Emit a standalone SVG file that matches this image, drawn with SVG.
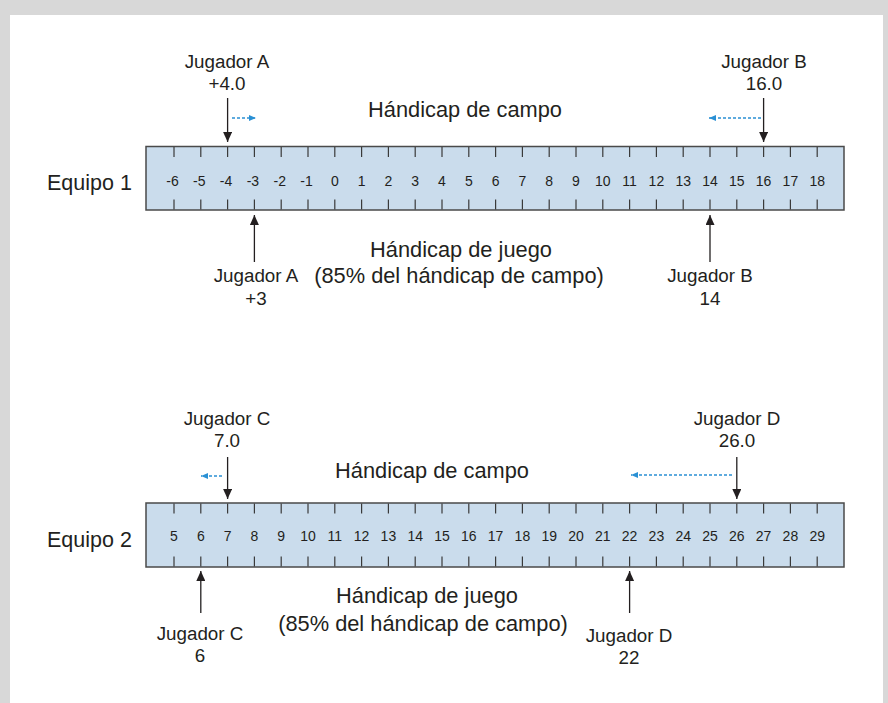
<svg xmlns="http://www.w3.org/2000/svg" width="888" height="703" viewBox="0 0 888 703">
<style>
text{font-family:"Liberation Sans",Arial,sans-serif;fill:#231f20}
.lbl{font-size:18.8px;text-anchor:middle}
.head{font-size:21.8px;text-anchor:middle}
.team{font-size:21.5px}
.num{font-size:14px;text-anchor:middle}
.ruler{fill:#cadcec;stroke:#4a4a4a;stroke-width:1.5}
.tick{stroke:#3a3a3a;stroke-width:1.2}
.arr{stroke:#231f20;stroke-width:1.3;fill:none;marker-end:url(#ah)}
.blue{stroke:#2a90d4;stroke-width:1.3;stroke-dasharray:3 2;fill:none;marker-end:url(#bh)}
</style>
<defs>
<marker id="ah" markerUnits="userSpaceOnUse" markerWidth="10" markerHeight="9" refX="10" refY="4.5" orient="auto">
<path d="M0,0 L10,4.5 L0,9 z" fill="#231f20"/>
</marker>
<marker id="bh" markerUnits="userSpaceOnUse" markerWidth="7" markerHeight="6" refX="7" refY="3" orient="auto">
<path d="M0,0 L7,3 L0,6 z" fill="#2a90d4"/>
</marker>
</defs>
<rect x="0" y="0" width="888" height="703" fill="#d8d8d8"/>
<rect x="10" y="15" width="873" height="688" fill="#ffffff"/>

<g id="equipo1">
<text class="team" x="47" y="190">Equipo 1</text>
<rect class="ruler" x="146" y="146.5" width="698" height="63.5"/>
<g class="tick">
<path d="M174,147v10M200.8,147v10M227.6,147v10M254.4,147v10M281.2,147v10M308,147v10M334.8,147v10M361.6,147v10M388.4,147v10M415.2,147v10M442,147v10M468.8,147v10M495.6,147v10M522.4,147v10M549.2,147v10M576,147v10M602.8,147v10M629.6,147v10M656.4,147v10M683.2,147v10M710,147v10M736.8,147v10M763.6,147v10M790.4,147v10M817.2,147v10"/>
<path d="M174,199.5v10M200.8,199.5v10M227.6,199.5v10M254.4,199.5v10M281.2,199.5v10M308,199.5v10M334.8,199.5v10M361.6,199.5v10M388.4,199.5v10M415.2,199.5v10M442,199.5v10M468.8,199.5v10M495.6,199.5v10M522.4,199.5v10M549.2,199.5v10M576,199.5v10M602.8,199.5v10M629.6,199.5v10M656.4,199.5v10M683.2,199.5v10M710,199.5v10M736.8,199.5v10M763.6,199.5v10M790.4,199.5v10M817.2,199.5v10"/>
</g>
<g class="num">
<text x="172.5" y="185.5">-6</text><text x="199.3" y="185.5">-5</text><text x="226.1" y="185.5">-4</text><text x="252.9" y="185.5">-3</text><text x="279.7" y="185.5">-2</text><text x="306.5" y="185.5">-1</text>
<text x="334.8" y="185.5">0</text><text x="361.6" y="185.5">1</text><text x="388.4" y="185.5">2</text><text x="415.2" y="185.5">3</text><text x="442" y="185.5">4</text><text x="468.8" y="185.5">5</text><text x="495.6" y="185.5">6</text><text x="522.4" y="185.5">7</text><text x="549.2" y="185.5">8</text><text x="576" y="185.5">9</text><text x="602.8" y="185.5">10</text><text x="629.6" y="185.5">11</text><text x="656.4" y="185.5">12</text><text x="683.2" y="185.5">13</text><text x="710" y="185.5">14</text><text x="736.8" y="185.5">15</text><text x="763.6" y="185.5">16</text><text x="790.4" y="185.5">17</text><text x="817.2" y="185.5">18</text>
</g>
<text class="head" x="465" y="117">Hándicap de campo</text>
<text class="head" x="461" y="257">Hándicap de juego</text>
<text class="head" x="459" y="282.5">(85% del hándicap de campo)</text>
</g>

<g id="jugadorA-campo"><text class="lbl" x="227" y="68">Jugador A</text><text class="lbl" x="227" y="89.5">+4.0</text></g>
<g id="jugadorB-campo"><text class="lbl" x="764" y="68">Jugador B</text><text class="lbl" x="764" y="89.5">16.0</text></g>
<g id="jugadorA-juego"><text class="lbl" x="256" y="282">Jugador A</text><text class="lbl" x="256" y="305">+3</text></g>
<g id="jugadorB-juego"><text class="lbl" x="710" y="282">Jugador B</text><text class="lbl" x="710" y="305">14</text></g>

<g id="equipo2">
<text class="team" x="47" y="547">Equipo 2</text>
<rect class="ruler" x="146" y="503" width="698" height="64"/>
<g class="tick">
<path d="M174,503.5v10M200.8,503.5v10M227.6,503.5v10M254.4,503.5v10M281.2,503.5v10M308,503.5v10M334.8,503.5v10M361.6,503.5v10M388.4,503.5v10M415.2,503.5v10M442,503.5v10M468.8,503.5v10M495.6,503.5v10M522.4,503.5v10M549.2,503.5v10M576,503.5v10M602.8,503.5v10M629.6,503.5v10M656.4,503.5v10M683.2,503.5v10M710,503.5v10M736.8,503.5v10M763.6,503.5v10M790.4,503.5v10M817.2,503.5v10"/>
<path d="M174,556.5v10M200.8,556.5v10M227.6,556.5v10M254.4,556.5v10M281.2,556.5v10M308,556.5v10M334.8,556.5v10M361.6,556.5v10M388.4,556.5v10M415.2,556.5v10M442,556.5v10M468.8,556.5v10M495.6,556.5v10M522.4,556.5v10M549.2,556.5v10M576,556.5v10M602.8,556.5v10M629.6,556.5v10M656.4,556.5v10M683.2,556.5v10M710,556.5v10M736.8,556.5v10M763.6,556.5v10M790.4,556.5v10M817.2,556.5v10"/>
</g>
<g class="num">
<text x="174" y="540.5">5</text><text x="200.8" y="540.5">6</text><text x="227.6" y="540.5">7</text><text x="254.4" y="540.5">8</text><text x="281.2" y="540.5">9</text><text x="308" y="540.5">10</text><text x="334.8" y="540.5">11</text><text x="361.6" y="540.5">12</text><text x="388.4" y="540.5">13</text><text x="415.2" y="540.5">14</text><text x="442" y="540.5">15</text><text x="468.8" y="540.5">16</text><text x="495.6" y="540.5">17</text><text x="522.4" y="540.5">18</text><text x="549.2" y="540.5">19</text><text x="576" y="540.5">20</text><text x="602.8" y="540.5">21</text><text x="629.6" y="540.5">22</text><text x="656.4" y="540.5">23</text><text x="683.2" y="540.5">24</text><text x="710" y="540.5">25</text><text x="736.8" y="540.5">26</text><text x="763.6" y="540.5">27</text><text x="790.4" y="540.5">28</text><text x="817.2" y="540.5">29</text>
</g>
<text class="head" x="432" y="478">Hándicap de campo</text>
<text class="head" x="427" y="603">Hándicap de juego</text>
<text class="head" x="423" y="631">(85% del hándicap de campo)</text>
</g>

<g id="jugadorC-campo"><text class="lbl" x="227" y="425">Jugador C</text><text class="lbl" x="227" y="447">7.0</text></g>
<g id="jugadorD-campo"><text class="lbl" x="737" y="425">Jugador D</text><text class="lbl" x="737" y="447">26.0</text></g>
<g id="jugadorC-juego"><text class="lbl" x="200" y="640">Jugador C</text><text class="lbl" x="200" y="662">6</text></g>
<g id="jugadorD-juego"><text class="lbl" x="629" y="642">Jugador D</text><text class="lbl" x="629" y="664">22</text></g>

<g id="connectors">
<line class="arr" x1="227.6" y1="98" x2="227.6" y2="142"/>
<line class="arr" x1="763.6" y1="98" x2="763.6" y2="142"/>
<line class="arr" x1="254.4" y1="262" x2="254.4" y2="215"/>
<line class="arr" x1="710" y1="262" x2="710" y2="215"/>
<line class="blue" x1="232" y1="118" x2="256" y2="118"/>
<line class="blue" x1="761" y1="118" x2="709" y2="118"/>
<line class="arr" x1="227.6" y1="457" x2="227.6" y2="499"/>
<line class="arr" x1="736.8" y1="457" x2="736.8" y2="499"/>
<line class="arr" x1="200.8" y1="613" x2="200.8" y2="571"/>
<line class="arr" x1="629.6" y1="613" x2="629.6" y2="571"/>
<line class="blue" x1="222" y1="476" x2="201" y2="476"/>
<line class="blue" x1="732" y1="475" x2="631" y2="475"/>
</g>
</svg>
